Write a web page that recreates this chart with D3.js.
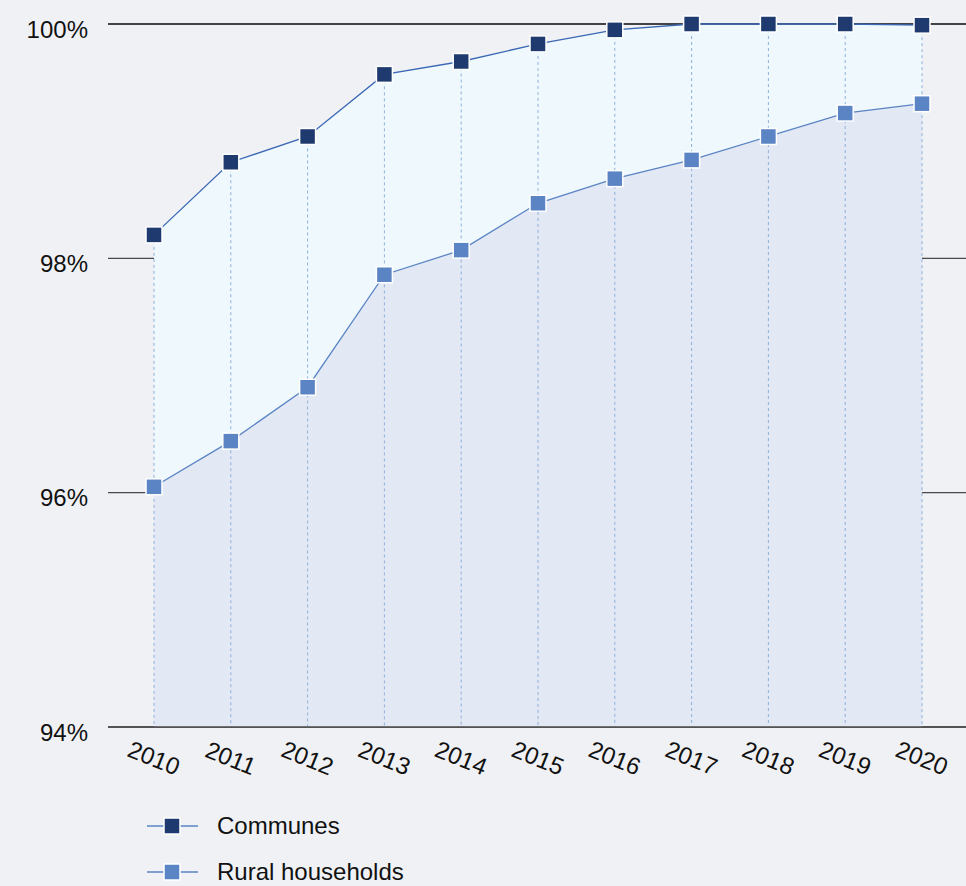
<!DOCTYPE html>
<html><head><meta charset="utf-8">
<script src="https://cdn.jsdelivr.net/npm/d3@7"></script>
<style>
html,body{margin:0;padding:0;background:#f0f1f5;}
svg{display:block;font-family:"Liberation Sans",Arial,Helvetica,sans-serif;}
</style></head>
<body>
<script>
const years = [2010,2011,2012,2013,2014,2015,2016,2017,2018,2019,2020];
const communes = [98.20,98.82,99.04,99.57,99.68,99.83,99.95,100.00,100.00,100.00,99.99];
const rural = [96.05,96.44,96.90,97.86,98.07,98.47,98.68,98.84,99.04,99.24,99.32];
const yTicks = [94,96,98,100];
const seriesNames = ["Communes","Rural households"];

const W=966,H=886;
const svg=d3.select("body").append("svg").attr("width",W).attr("height",H);
svg.append("rect").attr("width",W).attr("height",H).attr("fill","#f0f1f5");

const x=d3.scalePoint().domain(years).range([154,922]);
const y=d3.scaleLinear().domain([94,100]).range([727,24]);
const gridX0=108, gridX1=966;

// gridlines
svg.append("g").selectAll("line").data(yTicks).join("line")
 .attr("x1",gridX0).attr("x2",gridX1)
 .attr("y1",d=>y(d)).attr("y2",d=>y(d))
 .attr("stroke","#4a4a4a").attr("stroke-width",1.3);

// y labels
svg.append("g").selectAll("text").data(yTicks).join("text")
 .attr("x",88).attr("y",d=>y(d)+5).attr("dy","0.36em")
 .attr("text-anchor","end").attr("font-size",24).attr("fill","#111")
 .text(d=>d+"%");

const c1="#1f3a6e", c2="#5b84c4";
const dc=communes.map((v,i)=>({x:years[i],y:v}));
const dr=rural.map((v,i)=>({x:years[i],y:v}));

const area=d3.area().x(d=>x(d.x)).y0(y(94)).y1(d=>y(d.y));
const line=d3.line().x(d=>x(d.x)).y(d=>y(d.y));

svg.append("path").datum(dc).attr("d",area).attr("fill","#eff8fd");
svg.append("path").datum(dr).attr("d",area).attr("fill","#e2e8f4");

svg.append("line").attr("x1",gridX0).attr("x2",gridX1).attr("y1",y(100)).attr("y2",y(100))
 .attr("stroke","#333").attr("stroke-width",1.3);
svg.append("line").attr("x1",gridX0).attr("x2",gridX1).attr("y1",y(94)).attr("y2",y(94))
 .attr("stroke","#4a4a4a").attr("stroke-width",1.3);

// drop lines
svg.append("g").selectAll("line").data(dc).join("line")
 .attr("x1",d=>x(d.x)).attr("x2",d=>x(d.x)).attr("y1",d=>y(d.y)).attr("y2",y(94)-1)
 .attr("stroke","#8fb0dc").attr("stroke-width",1).attr("stroke-dasharray","3,3");

svg.append("path").datum(dc).attr("d",line).attr("fill","none").attr("stroke","#3a68b4").attr("stroke-width",1.3);
svg.append("path").datum(dr).attr("d",line).attr("fill","none").attr("stroke",c2).attr("stroke-width",1.3);

const ms=16;
function markers(data,col){
 svg.append("g").selectAll("rect").data(data).join("rect")
  .attr("x",d=>x(d.x)-ms/2).attr("y",d=>y(d.y)-ms/2).attr("width",ms).attr("height",ms)
  .attr("fill",col).attr("stroke","#fff").attr("stroke-width",1.5);
}
markers(dr,c2);
markers(dc,c1);

// x labels
svg.append("g").selectAll("text").data(years).join("text")
 .attr("transform",d=>`translate(${x(d)},758) rotate(22)`)
 .attr("text-anchor","middle").attr("dy","0.35em").attr("font-size",24).attr("fill","#111")
 .text(d=>d);

// legend
const leg=svg.append("g");
[[c1,826],[c2,872]].forEach((s,i)=>{
 const g=leg.append("g").attr("transform",`translate(0,${s[1]})`);
 g.append("line").attr("x1",147).attr("x2",198).attr("stroke","#5b84c4").attr("stroke-width",1.3);
 g.append("rect").attr("x",172-8).attr("y",-8).attr("width",16).attr("height",16).attr("fill",s[0]).attr("stroke","#fff").attr("stroke-width",1.5);
 g.append("text").attr("x",217).attr("dy","0.35em").attr("font-size",24).attr("fill","#111").text(seriesNames[i]);
});
</script>
</body></html>
